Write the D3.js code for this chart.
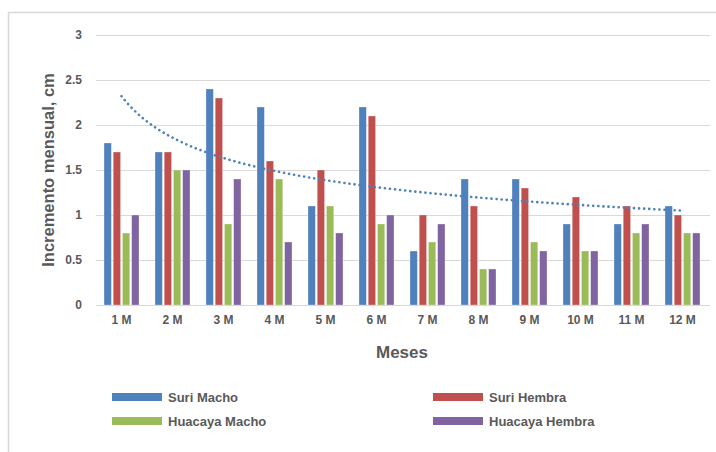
<!DOCTYPE html>
<html>
<head>
<meta charset="utf-8">
<script src="https://cdn.jsdelivr.net/npm/d3@7"></script>
<style>
  html, body { margin: 0; padding: 0; background: #fff; }
  svg { display: block; }
  text { font-family: "Liberation Sans", Arial, sans-serif; fill: #595959; font-weight: bold; }
</style>
</head>
<body>
<svg id="chart" width="716" height="452"></svg>
<script>
// Monthly increment (cm) by group
const months = ["1 M", "2 M", "3 M", "4 M", "5 M", "6 M", "7 M", "8 M", "9 M", "10 M", "11 M", "12 M"];
const suriMacho     = [1.8, 1.7, 2.4, 2.2, 1.1, 2.2, 0.6, 1.4, 1.4, 0.9, 0.9, 1.1];
const suriHembra    = [1.7, 1.7, 2.3, 1.6, 1.5, 2.1, 1.0, 1.1, 1.3, 1.2, 1.1, 1.0];
const huacayaMacho  = [0.8, 1.5, 0.9, 1.4, 1.1, 0.9, 0.7, 0.4, 0.7, 0.6, 0.8, 0.8];
const huacayaHembra = [1.0, 1.5, 1.4, 0.7, 0.8, 1.0, 0.9, 0.4, 0.6, 0.6, 0.9, 0.8];
const seriesNames   = ["Suri Macho", "Suri Hembra", "Huacaya Macho", "Huacaya Hembra"];
const yTicks        = [0, 0.5, 1, 1.5, 2, 2.5, 3];

const seriesValues = [suriMacho, suriHembra, huacayaMacho, huacayaHembra];
const colors = ["#4F81BD", "#C0504D", "#9BBB59", "#8064A2"];

const svg = d3.select("#chart");

// chart area frame
svg.append("rect")
  .attr("x", 8.5).attr("y", 12.5)
  .attr("width", 740).attr("height", 480)
  .attr("fill", "#fff").attr("stroke", "#d9d9d9").attr("stroke-width", 1.5);

const plot = { left: 96, right: 708, top: 35, bottom: 305 };

const x0 = d3.scaleBand().domain(months).range([plot.left, plot.right]).padding(0);
const x1 = d3.scaleBand().domain(seriesNames).range([8, 43]).paddingInner(0.2);
const y = d3.scaleLinear().domain([0, 3]).range([plot.bottom, plot.top]);

// gridlines
svg.append("g").selectAll("line").data(yTicks).join("line")
  .attr("x1", plot.left).attr("x2", plot.right + 2)
  .attr("y1", d => Math.round(y(d)) + 0.5).attr("y2", d => Math.round(y(d)) + 0.5)
  .attr("stroke", "#d9d9d9").attr("stroke-width", 1);

// y axis labels
const yAxis = d3.axisLeft(y).tickValues(yTicks).tickSize(0).tickPadding(0)
  .tickFormat(d => String(d));
svg.append("g").attr("transform", `translate(${plot.left - 14},0)`).call(yAxis)
  .call(g => g.select(".domain").remove())
  .call(g => g.selectAll("text").attr("font-size", 12).attr("fill", "#595959")
    .style("font-family", "'Liberation Sans', Arial, sans-serif"));

// x axis labels
const xAxis = d3.axisBottom(x0).tickSize(0).tickPadding(0);
svg.append("g").attr("transform", `translate(0,${plot.bottom + 10})`).call(xAxis)
  .call(g => g.select(".domain").remove())
  .call(g => g.selectAll("text").attr("font-size", 12).attr("fill", "#595959")
    .style("font-family", "'Liberation Sans', Arial, sans-serif"));

// bars
const groups = svg.append("g").selectAll("g").data(months).join("g")
  .attr("transform", d => `translate(${x0(d)},0)`);
groups.selectAll("rect")
  .data((m, i) => seriesNames.map((s, k) => ({ s, k, v: seriesValues[k][i] })))
  .join("rect")
  .attr("x", d => x1(d.s))
  .attr("width", x1.bandwidth())
  .attr("y", d => y(d.v))
  .attr("height", d => y(0) - y(d.v))
  .attr("fill", d => colors[d.k])
  .attr("stroke", "#ffffff").attr("stroke-opacity", 0.5).attr("stroke-width", 0.6);

// axis baseline
svg.append("line")
  .attr("x1", plot.left).attr("x2", plot.right + 2)
  .attr("y1", plot.bottom + 0.5).attr("y2", plot.bottom + 0.5)
  .attr("stroke", "#d9d9d9").attr("stroke-width", 1);

// power trendline fitted to Suri Macho (least squares on ln x, ln y)
const lx = suriMacho.map((v, i) => Math.log(i + 1));
const ly = suriMacho.map(v => Math.log(v));
const mx = d3.mean(lx), my = d3.mean(ly);
const b = d3.sum(lx, (v, i) => (v - mx) * (ly[i] - my)) / d3.sum(lx, v => (v - mx) ** 2);
const a = Math.exp(my - b * mx);
const xPos = d3.scaleLinear().domain([0.5, months.length + 0.5]).range([plot.left, plot.right]);
const trendPts = d3.range(1, months.length + 0.001, 0.1).map(t => [t, a * Math.pow(t, b)]);
svg.append("path")
  .datum(trendPts)
  .attr("d", d3.line().x(d => xPos(d[0])).y(d => y(d[1])).curve(d3.curveBasis))
  .attr("fill", "none")
  .attr("stroke", "#4F81BD")
  .attr("stroke-width", 2.6)
  .attr("stroke-linecap", "round")
  .attr("stroke-dasharray", "0.1 5");

// axis titles
svg.append("text")
  .attr("transform", `translate(54,170) rotate(-90)`)
  .attr("text-anchor", "middle")
  .attr("font-size", 16.5)
  .text("Incremento mensual, cm");

svg.append("text")
  .attr("x", 402).attr("y", 358)
  .attr("text-anchor", "middle")
  .attr("font-size", 17)
  .text("Meses");

// legend
const legendPos = [[112, 397], [433, 397], [112, 421], [433, 421]];
const legend = svg.append("g").selectAll("g").data(seriesNames).join("g")
  .attr("transform", (d, i) => `translate(${legendPos[i][0]},${legendPos[i][1]})`);
legend.append("rect")
  .attr("x", 0).attr("y", -4).attr("width", 50).attr("height", 8)
  .attr("fill", (d, i) => colors[i]);
legend.append("text")
  .attr("x", 56).attr("y", 4.5)
  .attr("font-size", 13)
  .text(d => d);
</script>
</body>
</html>
